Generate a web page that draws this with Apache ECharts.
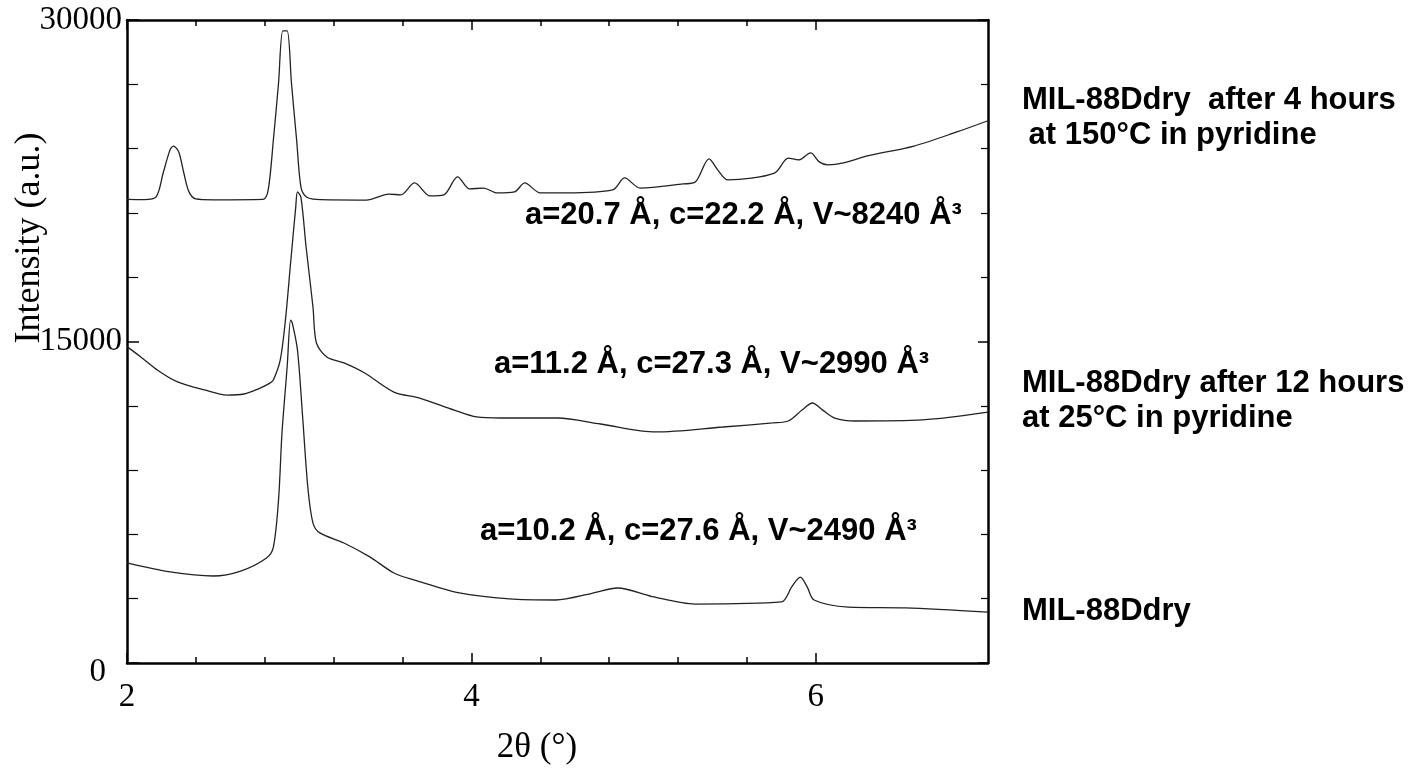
<!DOCTYPE html>
<html>
<head>
<meta charset="utf-8">
<title>MIL-88Ddry XRD</title>
<script src="https://cdn.jsdelivr.net/npm/echarts@6/dist/echarts.min.js"></script>
<style>
  html, body { margin: 0; padding: 0; background: #fff; }
  #xrd { width: 1424px; height: 774px; }
</style>
</head>
<body>
<div id="xrd"></div>
<script>
// 2theta / intensity, one pair of arrays per pattern
var theta150 = [2.00, 2.10, 2.17, 2.21, 2.25, 2.27, 2.30, 2.33, 2.36, 2.40, 2.50, 2.79, 2.82, 2.85, 2.88, 2.905, 2.93, 2.955, 2.985, 3.01, 3.04, 3.10,
  3.39, 3.52, 3.59, 3.67, 3.76, 3.84, 3.92, 3.99, 4.07, 4.15, 4.25, 4.31, 4.40, 4.55, 4.82, 4.89, 4.98, 5.23, 5.30, 5.38, 5.43, 5.49,
  5.76, 5.84, 5.90, 5.97, 6.02, 6.07, 6.16, 6.30, 6.57, 6.82, 7.00];
var int150 = [21630, 21620, 21760, 22860, 23940, 24120, 23850, 22860, 21980, 21650, 21610, 21630, 22070, 24400, 27060, 29490, 29490, 27060, 24400, 22210, 21750, 21630,
  21600, 21880, 21840, 22400, 21790, 21840, 22680, 22120, 22160, 21930, 21980, 22400, 21930, 21930, 22070, 22630, 22160, 22350, 22440, 23520, 23010, 22540,
  22860, 23560, 23470, 23800, 23380, 23240, 23330, 23660, 24120, 24780, 25300];

var theta25 = [2.00, 2.08, 2.18, 2.29, 2.45, 2.58, 2.68, 2.76, 2.83, 2.85, 2.89, 2.92, 2.95, 2.98, 2.99, 3.01, 3.04, 3.08, 3.10, 3.16, 3.26, 3.38, 3.55, 3.70,
  3.90, 4.03, 4.17, 4.50, 4.75, 5.07, 5.46, 5.75, 5.84, 5.92, 5.98, 6.04, 6.11, 6.23, 6.62, 7.00];
var int25 = [14760, 14280, 13650, 13130, 12740, 12500, 12550, 12780, 13060, 13200, 14140, 16000, 18660, 21280, 21980, 21740, 19410, 16610, 14930, 14280, 14000, 13530, 12640, 12360,
  11800, 11480, 11430, 11430, 11150, 10780, 11010, 11200, 11290, 11800, 12130, 11800, 11430, 11290, 11340, 11700];

var thetaDry = [2.00, 2.25, 2.50, 2.66, 2.81, 2.85, 2.88, 2.90, 2.93, 2.95, 2.96, 2.99, 3.02, 3.05, 3.08, 3.12, 3.26, 3.41, 3.55, 3.67, 3.93, 4.22,
  4.49, 4.70, 4.85, 5.05, 5.30, 5.80, 5.86, 5.91, 5.95, 5.99, 6.19, 6.52, 7.00];
var intDry = [4670, 4250, 4060, 4290, 4900, 5410, 7610, 10730, 13810, 16000, 15860, 14600, 11480, 8210, 6530, 6070, 5600, 4950, 4200, 3870, 3270, 2990,
  2940, 3250, 3500, 3100, 2750, 2850, 3550, 4010, 3550, 2940, 2610, 2570, 2370];

var xLabels = [2, 4, 6];
var xMinor = [2.4, 2.8, 3.2, 3.6, 4.4, 4.8, 5.2, 5.6];

var cellText = [
  'a=20.7 Å, c=22.2 Å, V~8240 Å³',
  'a=11.2 Å, c=27.3 Å, V~2990 Å³',
  'a=10.2 Å, c=27.6 Å, V~2490 Å³'
];
var sampleText = [
  ['MIL-88Ddry  after 4 hours', ' at 150°C in pyridine'],
  ['MIL-88Ddry after 12 hours', 'at 25°C in pyridine'],
  ['MIL-88Ddry']
];

function pairs(xs, ys) {
  return xs.map(function (x, i) { return [x, ys[i]]; });
}

var dom = document.getElementById('xrd');
var myChart = echarts.init(dom);
var serif = 'Liberation Serif';
var bold = 'bold 31px "Liberation Sans", Arial, sans-serif';

function xAx(pos, ticks, len, line, labels) {
  return {
    type: 'value', position: pos, min: 2, max: 7, interval: 2,
    axisLine: { show: line, lineStyle: { color: '#000', width: 2.5 } },
    axisTick: { show: true, inside: true, length: len, customValues: ticks, lineStyle: { color: '#000', width: 1.5 } },
    axisLabel: {
      show: labels, customValues: xLabels, margin: 18,
      color: '#000', fontFamily: serif, fontSize: 33
    },
    splitLine: { show: false }
  };
}

var lineSeries = function (name, d) {
  return {
    name: name, type: 'line', data: d, showSymbol: false, smooth: 0.3,
    lineStyle: { color: '#222', width: 1.3 }, silent: true
  };
};

var option = {
  backgroundColor: '#fff',
  animation: false,
  grid: { left: 127, right: 436, top: 20, bottom: 111 },
  xAxis: [
    xAx('bottom', xLabels, 10, true, true),
    xAx('bottom', xMinor, 6, false, false),
    xAx('top', xLabels, 10, true, false),
    xAx('top', xMinor, 6, false, false)
  ],
  yAxis: [
    {
      type: 'value', position: 'left', min: 0, max: 30000, interval: 15000,
      axisLine: { show: true, lineStyle: { color: '#000', width: 2.5 } },
      axisTick: { inside: true, length: 12, lineStyle: { color: '#000', width: 1.5 } },
      minorTick: { show: true, splitNumber: 5, length: 11, lineStyle: { color: '#000', width: 1.2 } },
      axisLabel: {
        margin: 5, color: '#000', fontFamily: serif, fontSize: 33,
        formatter: function (v) { return v === 0 ? '{z|0}' : String(v); },
        rich: { z: { fontFamily: serif, fontSize: 33, color: '#000', padding: [18, 16, 0, 0] } }
      },
      splitLine: { show: false }
    },
    {
      type: 'value', position: 'right', min: 0, max: 30000, interval: 15000,
      axisLine: { show: true, lineStyle: { color: '#000', width: 2.5 } },
      axisTick: { inside: true, length: 10, lineStyle: { color: '#000', width: 1.5 } },
      minorTick: { show: true, splitNumber: 5, length: 7, lineStyle: { color: '#000', width: 1.2 } },
      axisLabel: { show: false },
      splitLine: { show: false }
    }
  ],
  series: [
    lineSeries('150C', pairs(theta150, int150)),
    lineSeries('25C', pairs(theta25, int25)),
    lineSeries('dry', pairs(thetaDry, intDry))
  ],
  graphic: [
    { type: 'text', x: 30, y: 238, rotation: Math.PI / 2,
      style: { text: 'Intensity (a.u.)', font: '36px ' + serif, fill: '#000', align: 'center', verticalAlign: 'middle' } },
    { type: 'text', x: 537, y: 748,
      style: { text: '2θ (°)', font: '35px ' + serif, fill: '#000', align: 'center', verticalAlign: 'middle' } },
    { type: 'text', x: 525, y: 215, style: { text: cellText[0], font: bold, fill: '#000', align: 'left', verticalAlign: 'middle' } },
    { type: 'text', x: 494, y: 364, style: { text: cellText[1], font: bold, fill: '#000', align: 'left', verticalAlign: 'middle' } },
    { type: 'text', x: 480, y: 531, style: { text: cellText[2], font: bold, fill: '#000', align: 'left', verticalAlign: 'middle' } },
    { type: 'text', x: 1022, y: 100, style: { text: sampleText[0][0], font: bold, fill: '#000', align: 'left', verticalAlign: 'middle' } },
    { type: 'text', x: 1020, y: 135, style: { text: sampleText[0][1], font: bold, fill: '#000', align: 'left', verticalAlign: 'middle' } },
    { type: 'text', x: 1022, y: 383, style: { text: sampleText[1][0], font: bold, fill: '#000', align: 'left', verticalAlign: 'middle' } },
    { type: 'text', x: 1022, y: 418, style: { text: sampleText[1][1], font: bold, fill: '#000', align: 'left', verticalAlign: 'middle' } },
    { type: 'text', x: 1022, y: 611, style: { text: sampleText[2][0], font: bold, fill: '#000', align: 'left', verticalAlign: 'middle' } }
  ]
};

if (option && typeof option === 'object') {
  myChart.setOption(option, true);
}
</script>
</body>
</html>
